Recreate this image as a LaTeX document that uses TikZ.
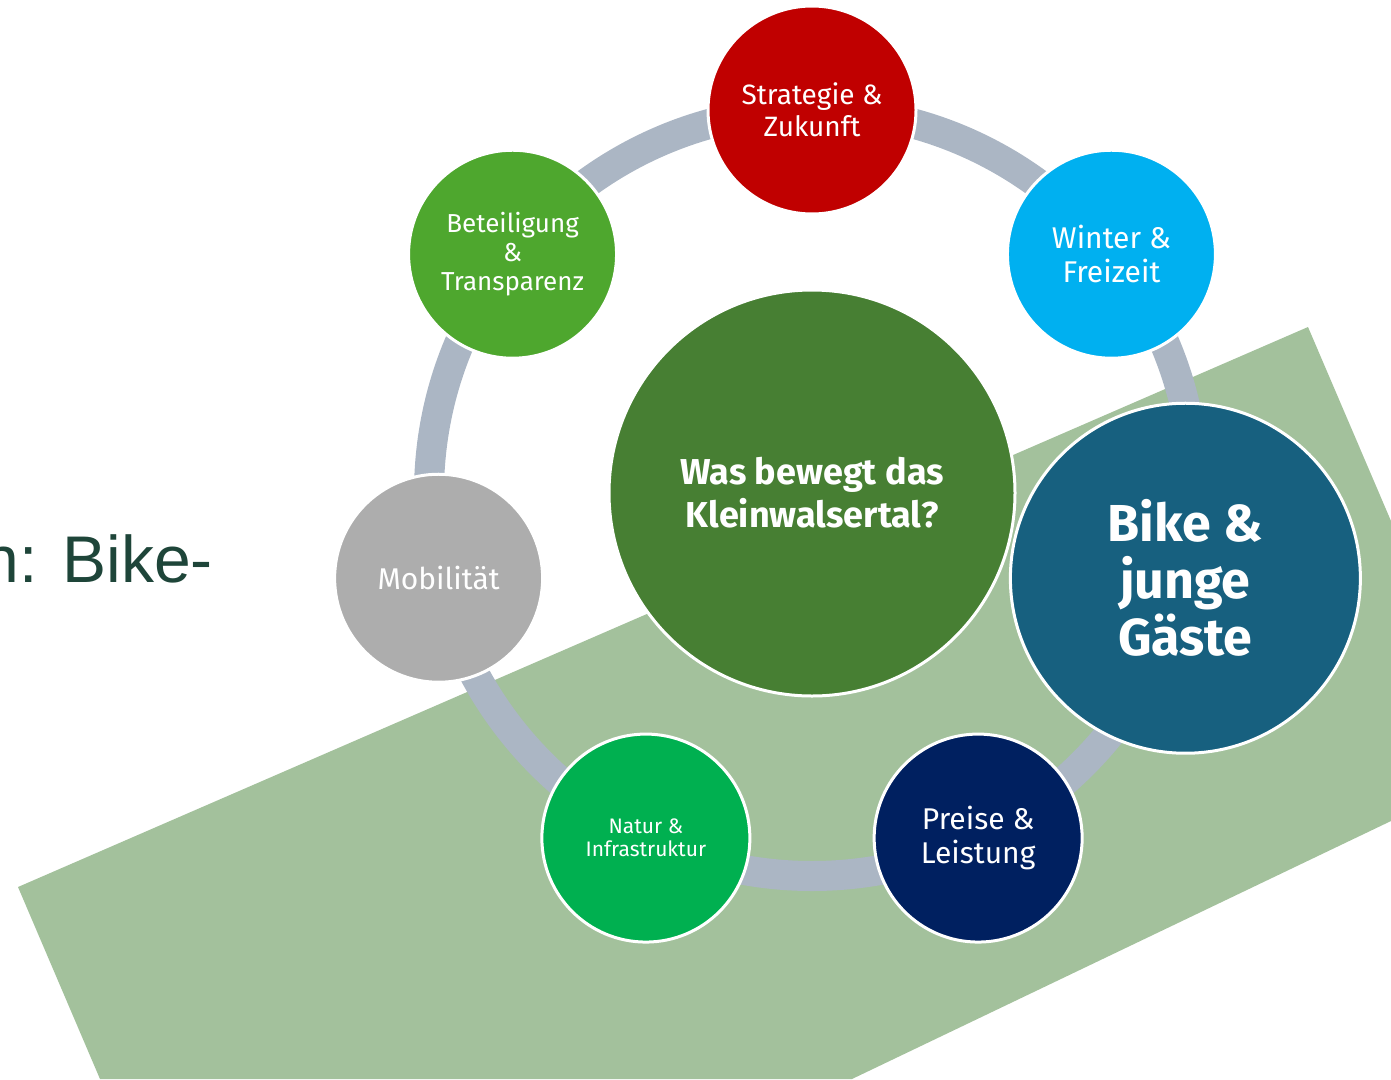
\documentclass[tikz,border=0pt]{standalone}
\usepackage{fontspec}
\setmainfont{Fira Sans}
\newfontfamily\slidefont{Liberation Sans}
\usepackage[usenames,dvipsnames]{xcolor}
\usetikzlibrary{calc}

\definecolor{cBand}{HTML}{A3C19C}
\definecolor{cRing}{HTML}{ABB6C4}
\definecolor{cStrat}{HTML}{C00000}
\definecolor{cWinter}{HTML}{00B0F0}
\definecolor{cBike}{HTML}{17607F}
\definecolor{cPreise}{HTML}{002060}
\definecolor{cNatur}{HTML}{00B050}
\definecolor{cMobil}{HTML}{ADADAD}
\definecolor{cBeteil}{HTML}{4EA72E}
\definecolor{cCenter}{HTML}{477F33}
\definecolor{cSlide}{HTML}{1E4539}

\tikzset{
  topic/.style={circle, draw=white, line width=3, inner sep=0, minimum size=208,
    text=white, align=center},
  fs/.style n args={2}{font=\fontsize{#1}{#2}\selectfont},
  fsb/.style n args={2}{font=\bfseries\fontsize{#1}{#2}\selectfont},
}

\begin{document}
\begin{tikzpicture}[x=1pt,y=-1pt]
\def\R{383}
\useasboundingbox (0,0) rectangle (1391,1079);
\coordinate (O) at (812,493);
% band behind the ring
\fill[cBand] (18,887) -- (1308,327) -- (1391,521) -- (1391,821) -- (852,1079) -- (100,1079) -- cycle;
\node[anchor=base east, inner sep=0, text=cSlide, font=\slidefont\fontsize{66}{70}\selectfont] (slide) at (213,582) {n: Bike-};
\draw[cRing, line width=30] (O) circle[radius=\R];
\node[topic, fill=cCenter, minimum size=406, fsb={36}{43}] (center) at (O) {Was bewegt das\\Kleinwalsertal?};
\node[topic, fill=cStrat, fs={28}{32}] (strat) at ($(O)+(-90:\R)$) {Strategie \&\\Zukunft};
\node[topic, fill=cWinter, fs={30}{34}] (winter) at ($(O)+(-38.57:\R)$) {Winter \&\\Freizeit};
\node[topic, fill=cPreise, fs={30}{34}] (preise) at ($(O)+(64.29:\R)$) {Preise \&\\Leistung};
\node[topic, fill=cNatur, fs={21}{23}] (natur) at ($(O)+(115.71:\R)$) {Natur \&\\Infrastruktur};
\node[topic, fill=cMobil, fs={30}{34}] (mobil) at ($(O)+(167.14:\R)$) {Mobilität};
\node[topic, fill=cBeteil, fs={26}{29}] (beteil) at ($(O)+(-141.43:\R)$) {Beteiligung\\\&\\Transparenz};
\node[topic, fill=cBike, minimum size=350, fsb={52}{57}] (bike) at ($(O)+(12.86:\R)$) {Bike \&\\junge\\Gäste};
\end{tikzpicture}
\end{document}
